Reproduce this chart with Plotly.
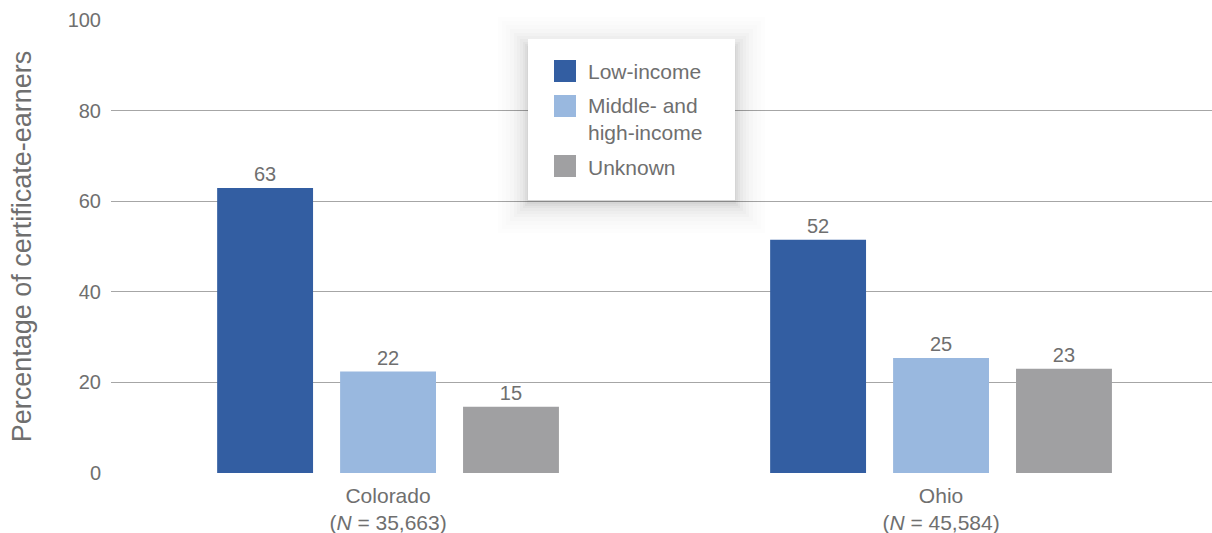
import plotly.graph_objects as go

# ---- data ----
states = ["Colorado<br>(<i>N</i> = 35,663)", "Ohio<br>(<i>N</i> = 45,584)"]
series_names = ["Low-income", "Middle- and<br>high-income", "Unknown"]
low_income = [62.9, 51.5]
mid_high_income = [22.4, 25.4]
unknown = [14.6, 23.0]
low_labels = ["63", "52"]
mid_labels = ["22", "25"]
unk_labels = ["15", "23"]
y_ticks = [0, 20, 40, 60, 80, 100]

colors = ["#335ea2", "#99b8df", "#a0a0a2"]
TEXT = "#6f6f6f"
FONT = "Liberation Sans, Arial, Helvetica, sans-serif"

W, H = 1212, 533
ML, MR, MT, MB = 111, 0, 20, 60

fig = go.Figure()
for name, vals, labs, col in zip(series_names, [low_income, mid_high_income, unknown],
                                 [low_labels, mid_labels, unk_labels], colors):
    fig.add_trace(go.Bar(
        x=states, y=vals, name=name, marker=dict(color=col, line=dict(width=0)),
        text=labs, textposition="outside", cliponaxis=False,
        textfont=dict(size=20, color=TEXT, family=FONT),
        showlegend=False, hoverinfo="skip",
    ))

# ---- manual legend (box with soft shadow) ----
def px_x(p):
    return (p - ML) / (W - ML - MR)

def px_y(p):
    return (H - MB - p) / (H - MT - MB)

shapes = []
bx0, bx1, by0, by1 = 528, 735, 39, 200
rings = [(30, 0.006), (26, 0.007), (22, 0.009), (18, 0.011), (14, 0.014),
         (11, 0.017), (8, 0.02), (5, 0.024), (3, 0.028), (1, 0.032)]
for d, a in rings:
    shapes.append(dict(type="rect", xref="paper", yref="paper", layer="above",
                       x0=px_x(bx0 - d), x1=px_x(bx1 + d), y0=px_y(by1 + d + 3), y1=px_y(by0 - d + 8),
                       fillcolor=f"rgba(0,0,0,{a})", line=dict(width=0)))
shapes.append(dict(type="rect", xref="paper", yref="paper", layer="above",
                   x0=px_x(bx0), x1=px_x(bx1), y0=px_y(by1), y1=px_y(by0),
                   fillcolor="white", line=dict(width=0)))

annotations = []
sq_tops = [60, 95, 155]
txt_y = [71, 92, 167]
anchors = ["middle", "top", "middle"]
for name, col, st, ty, an in zip(series_names, colors, sq_tops, txt_y, anchors):
    shapes.append(dict(type="rect", xref="paper", yref="paper", layer="above",
                       x0=px_x(554), x1=px_x(576), y0=px_y(st + 22), y1=px_y(st),
                       fillcolor=col, line=dict(width=0)))
    annotations.append(dict(xref="paper", yref="paper", x=px_x(586), y=px_y(ty),
                            xanchor="left", yanchor=an, align="left", showarrow=False,
                            text=name, font=dict(size=21, color=TEXT, family=FONT)))

fig.update_layout(
    width=W, height=H,
    margin=dict(l=ML, r=MR, t=MT, b=MB, pad=0),
    paper_bgcolor="white", plot_bgcolor="white",
    barmode="group", bargap=0.333, bargroupgap=0.22,
    font=dict(family=FONT, color=TEXT),
    shapes=shapes, annotations=annotations,
    xaxis=dict(showgrid=False, showline=False, ticks="", zeroline=False,
               range=[-0.501, 1.49], ticklabelstandoff=8,
               tickfont=dict(size=21, color=TEXT, family=FONT)),
    yaxis=dict(range=[0, 100], tickvals=y_ticks, showgrid=True, gridcolor="#a6a6a6",
               gridwidth=1, zeroline=False, showline=False, ticks="",
               ticklabelstandoff=9,
               tickfont=dict(size=20, color=TEXT, family=FONT),
               title=dict(text="Percentage of certificate-earners", standoff=28,
                          font=dict(size=27, color=TEXT, family=FONT))),
)

fig.write_html("out.html")
